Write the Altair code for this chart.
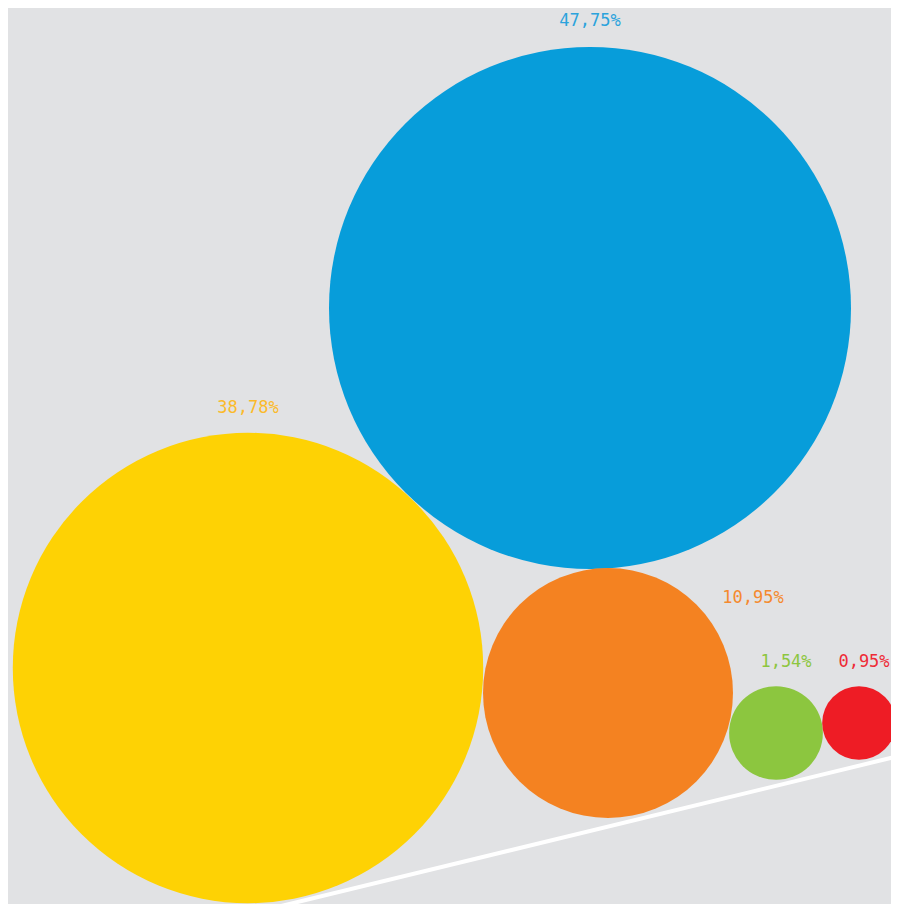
import altair as alt
import pandas as pd

# Shares (percent) of each bubble
categories = ["blue", "yellow", "orange", "green", "red"]
values = [47.75, 38.78, 10.95, 1.54, 0.95]
labels = ["47,75%", "38,78%", "10,95%", "1,54%", "0,95%"]

# Packed-bubble layout (layout space units)
cx = [590, 248, 608, 776, 859]
cy = [308, 668, 693, 733, 723]
label_x = [590, 248, 753, 786, 864]
label_y = [26, 413, 603, 667, 667]

circle_colors = ["#079dda", "#fed204", "#f48221", "#8cc63f", "#ee1c25"]
label_colors = ["#2ba3dc", "#fbba2a", "#f58a2e", "#8dc63f", "#ee2b36"]

# Baseline line (layout space)
line_x = [240, 940]
line_y = [916, 746]

df = pd.DataFrame({
    "cat": categories, "value": values, "label": labels,
    "cx": cx, "cy": cy, "lx": label_x, "ly": label_y,
})
line_df = pd.DataFrame({"x": [line_x[0]], "y": [line_y[0]], "x2": [line_x[1]], "y2": [line_y[1]]})

xs = alt.Scale(domain=[8, 891], nice=False, zero=False)
ys = alt.Scale(domain=[8, 904], nice=False, zero=False, reverse=True)
# Vega circle symbol: radius = sqrt(size) / 2 ; largest bubble radius 261 px
max_size = (2 * 261) ** 2

circles = alt.Chart(df).mark_circle(opacity=1, clip=True).encode(
    x=alt.X("cx:Q", scale=xs, axis=None),
    y=alt.Y("cy:Q", scale=ys, axis=None),
    size=alt.Size("value:Q", scale=alt.Scale(type="linear", domain=[0, 47.75], range=[0, max_size], zero=True), legend=None),
    color=alt.Color("cat:N", scale=alt.Scale(domain=categories, range=circle_colors), legend=None),
)

line = alt.Chart(line_df).mark_rule(color="white", strokeWidth=4, clip=True).encode(
    x=alt.X("x:Q", scale=xs, axis=None),
    y=alt.Y("y:Q", scale=ys, axis=None),
    x2="x2:Q",
    y2="y2:Q",
)

texts = alt.Chart(df).mark_text(
    font="DejaVu Sans Mono", fontSize=17, align="center", baseline="alphabetic"
).encode(
    x=alt.X("lx:Q", scale=xs, axis=None),
    y=alt.Y("ly:Q", scale=ys, axis=None),
    text="label:N",
    color=alt.Color("cat:N", scale=alt.Scale(domain=categories, range=label_colors), legend=None),
)

chart = alt.layer(line, circles, texts).resolve_scale(color="independent").properties(
    width=883, height=896, background="#e1e2e4", padding=0,
    autosize=alt.AutoSizeParams(type="none"),
).configure_view(stroke=None)

chart.save("out.html", embed_options={"renderer": "svg", "actions": False})
